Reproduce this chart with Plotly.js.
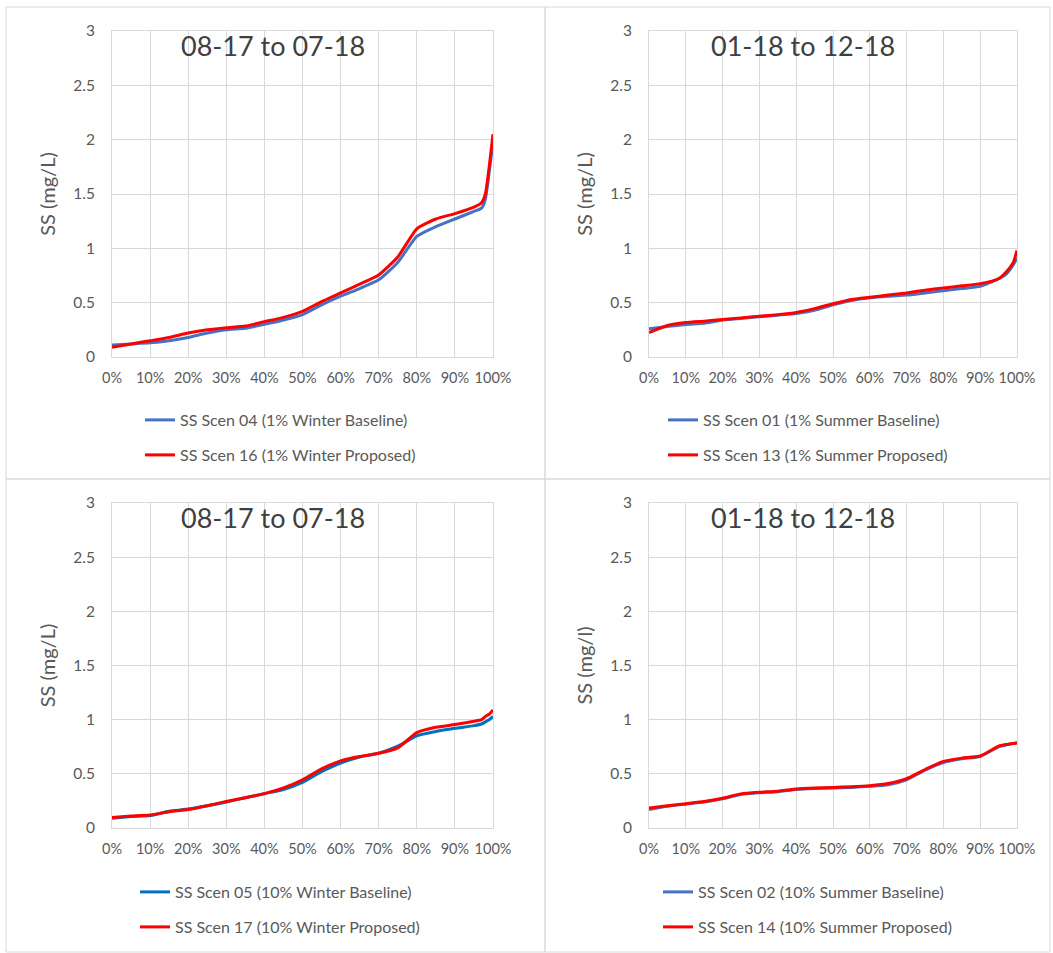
<!DOCTYPE html>
<html>
<head>
<meta charset="utf-8">
<script src="https://cdn.plot.ly/plotly-3.0.1.min.js"></script>
<style>html,body{margin:0;padding:0;background:#fff;}#chart{width:1053px;height:953px;}</style>
</head>
<body>
<div id="chart"></div>
<script>
// ---- Data (exceedance percentiles, SS mg/L) ----
const titles = ["08-17 to 07-18", "01-18 to 12-18", "08-17 to 07-18", "01-18 to 12-18"];
const yTitles = ["SS (mg/L)", "SS (mg/L)", "SS (mg/L)", "SS (mg/l)"];
const xTickVals = [0,10,20,30,40,50,60,70,80,90,100];
const xTickText = ["0%","10%","20%","30%","40%","50%","60%","70%","80%","90%","100%"];

const pct = [0,5,10,15,20,25,30,35,40,45,50,55,60,65,70,75,80,85,90,95,97,98,99,100];

// Panel 1: 1% winter
const p1BaseName = "SS Scen 04 (1% Winter Baseline)";
const p1PropName = "SS Scen 16 (1% Winter Proposed)";
const p1Base = [0.11,0.12,0.13,0.15,0.18,0.22,0.25,0.265,0.30,0.34,0.39,0.48,0.56,0.63,0.71,0.87,1.11,1.20,1.27,1.34,1.37,1.45,1.70,1.98];
const p1Prop = [0.09,0.12,0.15,0.18,0.22,0.25,0.27,0.285,0.325,0.365,0.42,0.51,0.59,0.67,0.755,0.92,1.18,1.27,1.32,1.38,1.42,1.50,1.75,2.05];

// Panel 2: 1% summer
const p2BaseName = "SS Scen 01 (1% Summer Baseline)";
const p2PropName = "SS Scen 13 (1% Summer Proposed)";
const p2Base = [0.26,0.28,0.30,0.31,0.34,0.355,0.37,0.385,0.40,0.43,0.48,0.52,0.545,0.56,0.57,0.59,0.61,0.63,0.65,0.72,0.76,0.80,0.85,0.91];
const p2Prop = [0.225,0.29,0.317,0.33,0.345,0.36,0.375,0.39,0.41,0.445,0.49,0.53,0.55,0.57,0.59,0.615,0.635,0.655,0.675,0.72,0.78,0.82,0.87,0.98];

// Panel 3: 10% winter
const p3BaseName = "SS Scen 05 (10% Winter Baseline)";
const p3PropName = "SS Scen 17 (10% Winter Proposed)";
const p3Base = [0.09,0.105,0.115,0.155,0.175,0.205,0.24,0.28,0.317,0.355,0.42,0.52,0.60,0.655,0.69,0.755,0.85,0.89,0.92,0.945,0.96,0.98,1.0,1.03];
const p3Prop = [0.098,0.11,0.12,0.15,0.17,0.205,0.245,0.28,0.317,0.37,0.445,0.545,0.62,0.66,0.69,0.74,0.88,0.93,0.955,0.985,1.0,1.03,1.05,1.09];

// Panel 4: 10% summer
const p4BaseName = "SS Scen 02 (10% Summer Baseline)";
const p4PropName = "SS Scen 14 (10% Summer Proposed)";
const p4Base = [0.17,0.20,0.22,0.24,0.27,0.31,0.325,0.335,0.355,0.365,0.37,0.375,0.385,0.40,0.445,0.535,0.605,0.64,0.66,0.75,0.765,0.775,0.78,0.785];
const p4Prop = [0.185,0.205,0.225,0.245,0.275,0.315,0.33,0.34,0.36,0.37,0.375,0.38,0.39,0.41,0.455,0.54,0.615,0.645,0.665,0.755,0.77,0.775,0.78,0.785];

// ---- Layout geometry (pixels) ----
const W = 1053, H = 953;
const FONT = "Lato, 'Open Sans', sans-serif";
const TXT = "#595959";
const GRID = "#d9d9d9";
const panels = [
  {x0:112, x1:493, y0:31, y1:357, base:p1Base, prop:p1Prop, bn:p1BaseName, pn:p1PropName, bc:"#4472C4", legX:140, legY:[420,455]},
  {x0:649, x1:1017, y0:31, y1:357, base:p2Base, prop:p2Prop, bn:p2BaseName, pn:p2PropName, bc:"#4472C4", legX:663, legY:[420,455]},
  {x0:112, x1:493, y0:503, y1:828, base:p3Base, prop:p3Prop, bn:p3BaseName, pn:p3PropName, bc:"#0070C0", legX:135, legY:[892,927]},
  {x0:649, x1:1017, y0:503, y1:828, base:p4Base, prop:p4Prop, bn:p4BaseName, pn:p4PropName, bc:"#4472C4", legX:658, legY:[892,927]}
];

const traces = [];
const layout = {
  width: W, height: H,
  margin: {l:0, r:0, t:0, b:0},
  paper_bgcolor: "#ffffff",
  plot_bgcolor: "#ffffff",
  font: {family: FONT, color: TXT, size: 15},
  showlegend: true,
  annotations: [],
  shapes: []
};

panels.forEach((p, i) => {
  const n = i + 1;
  const xa = n === 1 ? "x" : "x" + n;
  const ya = n === 1 ? "y" : "y" + n;
  const la = 2 * i + 1, lb = 2 * i + 2;
  const legA = la === 1 ? "legend" : "legend" + la;
  const legB = "legend" + lb;
  traces.push({
    x: pct, y: p.base, xaxis: xa, yaxis: ya, type: "scatter", mode: "lines",
    name: p.bn, line: {color: p.bc, width: 3, shape: "spline", smoothing: 0.5},
    legend: legA, hoverinfo: "x+y"
  });
  traces.push({
    x: pct, y: p.prop, xaxis: xa, yaxis: ya, type: "scatter", mode: "lines",
    name: p.pn, line: {color: "#FF0000", width: 3, shape: "spline", smoothing: 0.5},
    legend: legB, hoverinfo: "x+y"
  });
  const xk = n === 1 ? "xaxis" : "xaxis" + n;
  const yk = n === 1 ? "yaxis" : "yaxis" + n;
  layout[xk] = {
    domain: [p.x0 / W, p.x1 / W], anchor: ya, range: [0, 100],
    tickvals: xTickVals, ticktext: xTickText,
    showgrid: true, gridcolor: GRID, gridwidth: 1,
    showline: true, linecolor: GRID, linewidth: 1, mirror: true,
    zeroline: false, ticks: "", ticklabelstandoff: 8,
    tickfont: {family: FONT, size: 14.5, color: TXT}, fixedrange: true
  };
  layout[yk] = {
    domain: [1 - p.y1 / H, 1 - p.y0 / H], anchor: xa, range: [0, 3],
    dtick: 0.5, tick0: 0,
    showgrid: true, gridcolor: GRID, gridwidth: 1,
    showline: true, linecolor: GRID, linewidth: 1, mirror: true,
    zeroline: false, ticks: "", ticklabelstandoff: 13,
    tickfont: {family: FONT, size: 15.5, color: TXT}, fixedrange: true,
    title: {text: yTitles[i], font: {family: FONT, size: 20, color: TXT}, standoff: 12}
  };
  layout.annotations.push({
    text: titles[i], xref: "paper", yref: "paper",
    x: ((p.x0 + p.x1) / 2 - 30) / W, y: 1 - (p.y0 + 14) / H,
    xanchor: "center", yanchor: "middle", showarrow: false,
    font: {family: FONT, size: 27, color: "#404040"}
  });
  const lgA = {x: p.legX / W, y: 1 - p.legY[0] / H, xanchor: "left", yanchor: "middle",
    bgcolor: "rgba(0,0,0,0)", borderwidth: 0,
    font: {family: FONT, size: 16, color: TXT}};
  const lgB = Object.assign({}, lgA, {y: 1 - p.legY[1] / H});
  layout[legA] = lgA;
  layout[legB] = lgB;
});

// panel frames
const frames = [[6,7,545,479],[545,7,1050,479],[6,479,545,952],[545,479,1050,952]];
frames.forEach(f => {
  layout.shapes.push({type: "rect", xref: "paper", yref: "paper",
    x0: f[0] / W, x1: f[2] / W, y0: 1 - f[3] / H, y1: 1 - f[1] / H,
    line: {color: GRID, width: 1}, fillcolor: "rgba(0,0,0,0)", layer: "below"});
});

Plotly.newPlot("chart", traces, layout, {displayModeBar: false, staticPlot: false});
</script>
</body>
</html>
